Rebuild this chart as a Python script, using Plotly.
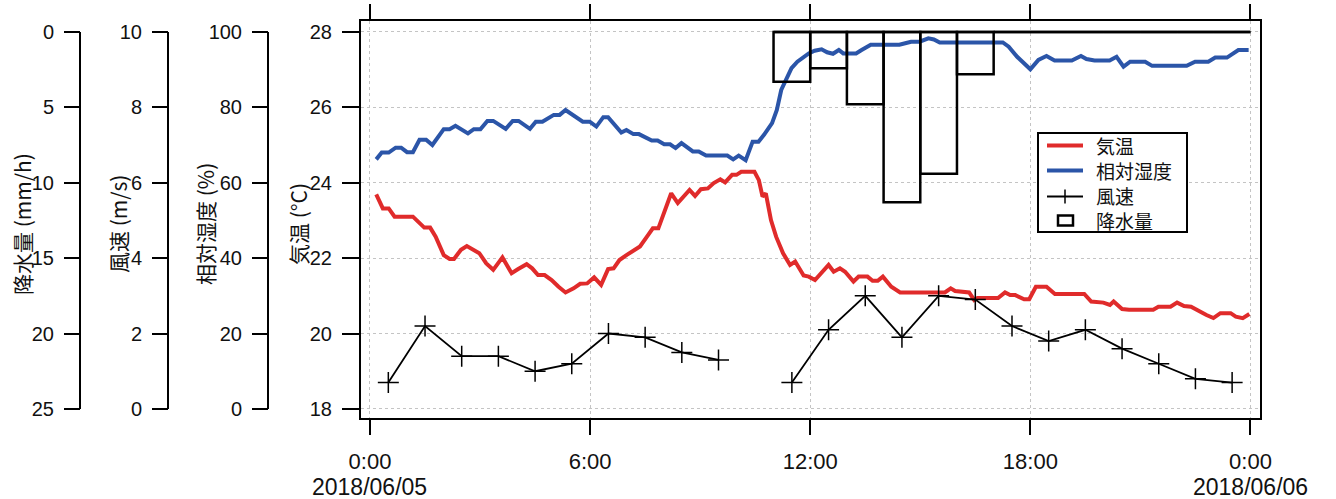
import plotly.graph_objects as go

# ---------------- data (hours since 2018/06/05 0:00) ----------------
temp_hours = [0.17, 0.35, 0.51, 0.67, 1.17, 1.35, 1.48, 1.64, 1.79, 2.01, 2.17, 2.29, 2.48, 2.64, 2.79,
              2.98, 3.17, 3.36, 3.61, 3.86, 4.04, 4.27, 4.42, 4.58, 4.76, 4.95, 5.14, 5.33, 5.55, 5.73,
              5.92, 6.11, 6.30, 6.49, 6.64, 6.80, 6.99, 7.18, 7.36, 7.55, 7.71, 7.86, 8.02, 8.21, 8.39,
              8.52, 8.71, 8.86, 9.02, 9.21, 9.37, 9.55, 9.68, 9.87, 9.99, 10.12, 10.48, 10.60, 10.70,
              10.79, 10.93, 11.07, 11.26, 11.45, 11.59, 11.82, 11.96, 12.13, 12.34, 12.50, 12.64, 12.81,
              12.95, 13.18, 13.32, 13.56, 13.70, 13.84, 13.98, 14.21, 14.45, 15.67, 15.83, 15.95, 16.33,
              16.47, 16.56, 17.12, 17.31, 17.45, 17.59, 17.83, 17.97, 18.15, 18.44, 18.67, 19.47, 19.66,
              19.99, 20.17, 20.27, 20.50, 20.69, 21.35, 21.49, 21.82, 22.00, 22.19, 22.38, 22.61, 22.80,
              22.99, 23.18, 23.46, 23.60, 23.79, 23.97]
temp_vals = [23.69, 23.32, 23.32, 23.10, 23.10, 22.93, 22.81, 22.81, 22.57, 22.08, 21.98, 21.98, 22.22,
             22.32, 22.24, 22.13, 21.86, 21.69, 22.02, 21.60, 21.71, 21.84, 21.73, 21.55, 21.55, 21.42,
             21.24, 21.09, 21.20, 21.32, 21.33, 21.49, 21.29, 21.71, 21.73, 21.95, 22.08, 22.20, 22.31,
             22.57, 22.79, 22.79, 23.19, 23.72, 23.46, 23.59, 23.81, 23.65, 23.83, 23.85, 23.99, 24.09,
             24.01, 24.21, 24.21, 24.29, 24.29, 24.07, 23.63, 23.72, 23.01, 22.57, 22.13, 21.82, 21.91,
             21.54, 21.51, 21.42, 21.64, 21.82, 21.64, 21.73, 21.64, 21.38, 21.51, 21.51, 21.40, 21.40,
             21.51, 21.24, 21.09, 21.09, 21.20, 21.13, 21.09, 20.89, 20.94, 20.94, 21.09, 21.02, 21.02,
             20.91, 20.91, 21.24, 21.24, 21.05, 21.05, 20.85, 20.82, 20.76, 20.85, 20.65, 20.63, 20.63,
             20.71, 20.71, 20.82, 20.73, 20.71, 20.58, 20.49, 20.41, 20.54, 20.54, 20.45, 20.41, 20.52]

rh_hours = [0.17, 0.32, 0.51, 0.70, 0.85, 1.01, 1.17, 1.35, 1.53, 1.70, 2.01, 2.17, 2.33, 2.67, 2.83,
            3.01, 3.20, 3.36, 3.70, 3.89, 4.05, 4.36, 4.52, 4.70, 5.01, 5.17, 5.33, 5.64, 5.80, 5.99,
            6.17, 6.36, 6.49, 6.85, 6.99, 7.18, 7.33, 7.68, 7.84, 8.02, 8.18, 8.33, 8.49, 8.80, 8.96,
            9.16, 9.30, 9.74, 9.90, 10.05, 10.24, 10.43, 10.59, 10.74, 10.96, 11.09, 11.21, 11.34,
            11.49, 11.65, 11.81, 11.96, 12.12, 12.31, 12.46, 12.62, 12.78, 12.90, 13.06, 13.25, 13.40,
            13.65, 13.81, 14.43, 14.59, 14.75, 14.98, 15.22, 15.37, 15.53, 16.16, 17.25, 17.41, 17.64,
            18.00, 18.22, 18.44, 18.66, 19.13, 19.38, 19.53, 19.75, 20.16, 20.35, 20.54, 20.72, 21.13,
            21.32, 22.26, 22.49, 22.85, 23.04, 23.36, 23.67, 23.95]
rh_vals = [66.2, 68.0, 68.0, 69.3, 69.3, 68.1, 68.1, 71.4, 71.4, 70.0, 74.2, 74.2, 75.1, 73.1, 74.2,
           74.2, 76.4, 76.4, 74.3, 76.4, 76.4, 74.3, 76.2, 76.2, 78.0, 78.0, 79.3, 77.1, 76.2, 76.2,
           74.9, 77.4, 77.4, 73.3, 74.0, 72.9, 72.9, 71.2, 71.2, 70.2, 70.2, 69.2, 70.5, 68.3, 68.3,
           67.2, 67.2, 67.2, 66.2, 67.2, 66.0, 70.9, 70.9, 72.7, 75.8, 79.3, 84.6, 87.3,
           90.4, 92.1, 93.4, 94.3, 95.0, 95.4, 94.6, 94.2, 95.2, 94.3, 94.3, 94.3, 95.2,
           96.6, 96.6, 96.6, 97.0, 97.4, 97.4, 98.3, 98.0, 97.2, 97.2, 97.2, 96.1, 93.4,
           90.1, 92.6, 93.6, 92.4, 92.4, 93.6, 92.8, 92.4, 92.4, 93.4, 90.8, 92.1, 92.1,
           91.0, 91.0, 92.1, 92.1, 93.2, 93.2, 95.2, 95.2]

wind_hours = [0.5, 1.5, 2.5, 3.5, 4.5, 5.5, 6.5, 7.5, 8.5, 9.5, 10.5, 11.5, 12.5, 13.5, 14.5, 15.5,
              16.5, 17.5, 18.5, 19.5, 20.5, 21.5, 22.5, 23.5]
wind_vals = [0.7, 2.2, 1.4, 1.4, 1.0, 1.2, 2.0, 1.9, 1.5, 1.3, None, 0.7, 2.1, 3.0, 1.9, 3.0,
             2.9, 2.2, 1.8, 2.1, 1.6, 1.2, 0.8, 0.7]

rain_hour_end = [12, 13, 14, 15, 16, 17, 18, 19, 20, 21, 22, 23, 24]
rain_vals = [3.3, 2.4, 4.8, 11.3, 9.4, 2.8, 0, 0, 0, 0, 0, 0, 0]

x_tickvals = [0, 6, 12, 18, 24]
x_ticktext = ["0:00", "6:00", "12:00", "18:00", "0:00"]
date_hours = [0, 24]
date_labels = ["2018/06/05", "2018/06/06"]
temp_ticks = [18, 20, 22, 24, 26, 28]
rh_ticks = [0, 20, 40, 60, 80, 100]
wind_ticks = [0, 2, 4, 6, 8, 10]
rain_ticks = [0, 5, 10, 15, 20, 25]
legend_names = ["気温", "相対湿度", "風速", "降水量"]

# ---------------- layout geometry ----------------
W, H = 1336, 499
ML, MR, MT, MB = 10, 76, 21, 81
PW = W - ML - MR
PH = H - MT - MB


def px_x(p):
    return (p - ML) / PW


def px_y(p):
    return (H - MB - p) / PH


T_RANGE = [17.76, 28.29]


def mapped(a18, b28):
    # axis whose value a18 sits at temp 18 and b28 at temp 28
    return [a18 + (t - 18) * (b28 - a18) / 10 for t in T_RANGE]


RED = "#e02b2b"
BLUE = "#2b55a8"
TXT = "#111111"
FONT = "Liberation Sans, Arial, Noto Sans CJK JP"
CJK = "Noto Sans CJK JP, Liberation Sans"

fig = go.Figure()

bar_x = [h - 0.5 for h in rain_hour_end]
fig.add_trace(go.Bar(
    x=bar_x, y=rain_vals, width=1, base=0, yaxis="y4", name=legend_names[3],
    marker=dict(color="rgba(255,255,255,0)", line=dict(color="black", width=2.5)),
))
fig.add_trace(go.Scatter(
    x=[rain_hour_end[0] - 1, rain_hour_end[-1]], y=[0, 0], yaxis="y4", mode="lines",
    line=dict(color="black", width=2.5), hoverinfo="skip",
))
fig.add_trace(go.Scatter(x=temp_hours, y=temp_vals, name=legend_names[0], mode="lines",
                         line=dict(color=RED, width=4)))
fig.add_trace(go.Scatter(x=rh_hours, y=rh_vals, name=legend_names[1], yaxis="y2", mode="lines",
                         line=dict(color=BLUE, width=4)))
fig.add_trace(go.Scatter(
    x=wind_hours, y=wind_vals, name=legend_names[2], yaxis="y3", mode="lines+markers",
    connectgaps=False, line=dict(color="black", width=1.8),
    marker=dict(symbol="cross-thin", size=15, line=dict(color="black", width=1.5)),
))

tickfont = dict(family=FONT, size=20, color=TXT)
free_common = dict(
    overlaying="y", anchor="free", side="left", ticks="outside", ticklen=16, tickwidth=2,
    tickcolor="black", showline=False, showgrid=False, zeroline=False, tickfont=tickfont,
    ticklabelstandoff=6, automargin=False,
)

fig.update_layout(
    width=W, height=H,
    margin=dict(l=ML, r=MR, t=MT, b=MB, autoexpand=False),
    paper_bgcolor="white", plot_bgcolor="white",
    showlegend=False,
    xaxis=dict(
        domain=[px_x(361), 1], range=[-0.245, 24.26], tickvals=x_tickvals, ticktext=x_ticktext,
        ticks="outside", ticklen=15, tickwidth=2, tickcolor="black",
        showline=True, linewidth=2, linecolor="black", mirror="ticks",
        showgrid=True, gridcolor="#c4c4c4", griddash="dot", gridwidth=1, zeroline=False,
        tickfont=dict(family=FONT, size=22, color=TXT), automargin=False, ticklabelstandoff=8,
    ),
    yaxis=dict(
        range=T_RANGE, tickvals=temp_ticks, ticks="outside", ticklen=17, tickwidth=2,
        tickcolor="black", showline=True, linewidth=2, linecolor="black", mirror=True,
        showgrid=True, gridcolor="#c4c4c4", griddash="dot", gridwidth=1, zeroline=False,
        tickfont=tickfont, ticklabelstandoff=6, automargin=False,
    ),
    yaxis2=dict(range=mapped(0, 100), tickvals=rh_ticks, position=px_x(268), **free_common),
    yaxis3=dict(range=mapped(0, 10), tickvals=wind_ticks, position=px_x(168), **free_common),
    yaxis4=dict(range=mapped(25, 0), tickvals=rain_ticks, position=px_x(80), **free_common),
)

# date lines under the first and last time ticks
for h, lab in zip(date_hours, date_labels):
    fig.add_annotation(text=lab, xref="x", yref="paper", x=h, y=px_y(486.5), showarrow=False,
                       xanchor="center", yanchor="middle", font=dict(family=FONT, size=23, color=TXT))

# axis lines of the free axes (span 18..28 °C on the main scale)
for p in (80, 168, 268):
    fig.add_shape(type="line", xref="paper", yref="y", x0=px_x(p), x1=px_x(p), y0=18, y1=28,
                  line=dict(color="black", width=2))

titles = [("降水量 (mm/h)", 22), ("風速 (m/s)", 118), ("相対湿度 (%)", 205), ("気温 (°C)", 298)]
for txt, p in titles:
    fig.add_annotation(text=txt, xref="paper", yref="paper", x=px_x(p), y=px_y(224),
                       textangle=-90, showarrow=False, xanchor="center", yanchor="middle",
                       font=dict(family=CJK, size=21, color=TXT))

# ---------------- legend box (drawn in paper space) ----------------
LX0, LX1, LY0, LY1 = 1038, 1187, 133, 232
fig.add_shape(type="rect", xref="paper", yref="paper", x0=px_x(LX0), x1=px_x(LX1),
              y0=px_y(LY1), y1=px_y(LY0), line=dict(color="black", width=2), fillcolor="white",
              layer="above")
rows = [145.5, 170.5, 195.5, 220.5]
sx0, sx1 = 1047, 1083
fig.add_shape(type="line", xref="paper", yref="paper", x0=px_x(sx0), x1=px_x(sx1),
              y0=px_y(rows[0]), y1=px_y(rows[0]), line=dict(color=RED, width=4), layer="above")
fig.add_shape(type="line", xref="paper", yref="paper", x0=px_x(sx0), x1=px_x(sx1),
              y0=px_y(rows[1]), y1=px_y(rows[1]), line=dict(color=BLUE, width=4), layer="above")
fig.add_shape(type="line", xref="paper", yref="paper", x0=px_x(sx0), x1=px_x(sx1),
              y0=px_y(rows[2] + 1), y1=px_y(rows[2] + 1), line=dict(color="black", width=1.8),
              layer="above")
fig.add_shape(type="line", xref="paper", yref="paper", x0=px_x(1065), x1=px_x(1065),
              y0=px_y(rows[2] - 6), y1=px_y(rows[2] + 8), line=dict(color="black", width=1.5),
              layer="above")
fig.add_shape(type="rect", xref="paper", yref="paper", x0=px_x(1058), x1=px_x(1073),
              y0=px_y(rows[3] + 5), y1=px_y(rows[3] - 5), line=dict(color="black", width=2.5),
              fillcolor="white", layer="above")
for r, name in zip(rows, legend_names):
    fig.add_annotation(text=name, xref="paper", yref="paper", x=px_x(1094), y=px_y(r),
                       xanchor="left", yanchor="middle", showarrow=False,
                       font=dict(family=CJK, size=19, color=TXT))

fig.write_html("out.html", config={"displayModeBar": False},
               post_script="document.body.style.margin='0';")
